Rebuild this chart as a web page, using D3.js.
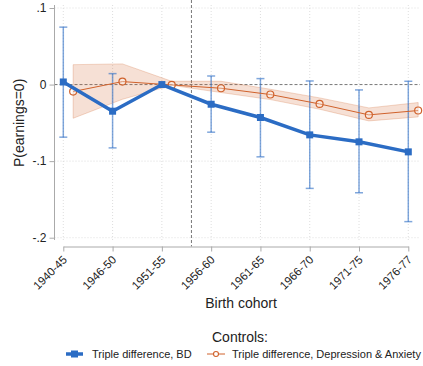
<!DOCTYPE html>
<html>
<head>
<meta charset="utf-8">
<script src="https://cdn.jsdelivr.net/npm/d3@7"></script>
<style>
  body { margin: 0; background: #fff; }
  text { font-family: "Liberation Sans", Arial, Helvetica, sans-serif; fill: #222; }
</style>
</head>
<body>
<div id="chart"></div>
<script>
// Data
var cohorts = ['1940-45', '1946-50', '1951-55', '1956-60', '1961-65', '1966-70', '1971-75', '1976-77'];

// Triple difference, BD (point estimate + 95% CI)
var bdEst = [0.0034, -0.0348, 0, -0.0257, -0.043, -0.0657, -0.0748, -0.0879];
var bdLow = [-0.0687, -0.0827, null, -0.0622, -0.0944, -0.1356, -0.1413, -0.179];
var bdHigh = [0.075, 0.0143, null, 0.0112, 0.0078, 0.0047, -0.007, 0.0043];

// Triple difference, Depression & Anxiety (point estimate + band)
var daEst = [-0.0091, 0.0039, -0.0005, -0.0048, -0.013, -0.0253, -0.0396, -0.0339];
var daLow = [-0.044, -0.0192, -0.001, -0.0104, -0.0196, -0.0322, -0.0475, -0.0422];
var daHigh = [0.026, 0.027, 0.0043, 0.0043, -0.0061, -0.0174, -0.0305, -0.0235];

var yTicks = [0.1, 0, -0.1, -0.2];
var yTickLabels = ['.1', '0', '-.1', '-.2'];

var svgWidth = 423;
var svgHeight = 366;

var blue = '#2b6cc4';
var orange = '#d0622c';

var svg = d3.select('#chart')
  .append('svg')
  .attr('width', svgWidth)
  .attr('height', svgHeight);

var x = d3.scaleLinear()
  .domain([0, cohorts.length - 1])
  .range([63.3, 408.3]);

var y = d3.scaleLinear()
  .domain([-0.2, 0.1])
  .range([237.7, 8]);

var plotLeft = 54.5;
var plotRight = 420;
var plotTop = 5;
var plotBottom = 240;
var xAxisY = 246.5;
var offset = 0.2; // orange series shifted right

// gridlines
svg.append('g').selectAll('line')
  .data(cohorts)
  .enter()
  .append('line')
  .attr('x1', (d, i) => x(i))
  .attr('x2', (d, i) => x(i))
  .attr('y1', plotTop)
  .attr('y2', plotBottom)
  .attr('stroke', '#d6d6d6')
  .attr('stroke-width', 0.8)
  .attr('stroke-dasharray', '1,2');

svg.append('g').selectAll('line')
  .data(yTicks.filter(d => d !== 0))
  .enter()
  .append('line')
  .attr('x1', plotLeft)
  .attr('x2', plotRight)
  .attr('y1', d => y(d))
  .attr('y2', d => y(d))
  .attr('stroke', '#d6d6d6')
  .attr('stroke-width', 0.8)
  .attr('stroke-dasharray', '1,2');

// zero line and cohort break
svg.append('line')
  .attr('x1', plotLeft)
  .attr('x2', plotRight)
  .attr('y1', y(0))
  .attr('y2', y(0))
  .attr('stroke', '#555')
  .attr('stroke-width', 0.8)
  .attr('stroke-dasharray', '3,2');

svg.append('line')
  .attr('x1', x(2.6))
  .attr('x2', x(2.6))
  .attr('y1', 0)
  .attr('y2', xAxisY)
  .attr('stroke', '#555')
  .attr('stroke-width', 0.8)
  .attr('stroke-dasharray', '3,2');

// y axis
var leftAxis = d3.axisLeft(y)
  .tickValues(yTicks)
  .tickFormat((d, i) => yTickLabels[i])
  .tickSize(5)
  .tickSizeOuter(0);

var yAxisG = svg.append('g')
  .attr('transform', `translate(${plotLeft}, 0)`)
  .call(leftAxis);
yAxisG.select('.domain').attr('d', `M0,${plotTop}V${plotBottom}`).attr('stroke', '#aaa');
yAxisG.selectAll('.tick line').attr('stroke', '#aaa');
yAxisG.selectAll('.tick text').attr('font-size', 12).attr('x', -8).style('fill', '#222');

// x axis
var bottomAxis = d3.axisBottom(x)
  .tickValues(d3.range(cohorts.length))
  .tickFormat(i => cohorts[i])
  .tickSize(5)
  .tickSizeOuter(0);

var xAxisG = svg.append('g')
  .attr('transform', `translate(0, ${xAxisY})`)
  .call(bottomAxis);
xAxisG.select('.domain').attr('stroke', '#aaa');
xAxisG.selectAll('.tick line').attr('stroke', '#aaa');
xAxisG.selectAll('.tick text')
  .attr('font-size', 11.5)
  .attr('text-anchor', 'end')
  .attr('x', 0)
  .attr('y', 0)
  .attr('dy', 0)
  .attr('transform', 'translate(4, 14) rotate(-45)')
  .style('fill', '#222');

// orange band
var band = d3.area()
  .x((d, i) => x(i + offset))
  .y0((d, i) => y(daLow[i]))
  .y1((d, i) => y(daHigh[i]));

svg.append('path')
  .datum(daEst)
  .attr('d', band)
  .attr('fill', orange)
  .attr('fill-opacity', 0.2)
  .attr('stroke', orange)
  .attr('stroke-opacity', 0.25)
  .attr('stroke-width', 1);

// blue CI bars
var ciIdx = d3.range(cohorts.length).filter(i => bdLow[i] !== null);
var ciG = svg.append('g')
  .attr('stroke', blue)
  .attr('stroke-opacity', 0.6)
  .attr('stroke-width', 1.5);

ciG.selectAll('.ci')
  .data(ciIdx)
  .enter()
  .append('line')
  .attr('x1', i => x(i))
  .attr('x2', i => x(i))
  .attr('y1', i => y(bdLow[i]))
  .attr('y2', i => y(bdHigh[i]));

ciG.selectAll('.capL')
  .data(ciIdx)
  .enter()
  .append('line')
  .attr('x1', i => x(i) - 4)
  .attr('x2', i => x(i) + 4)
  .attr('y1', i => y(bdLow[i]))
  .attr('y2', i => y(bdLow[i]));

ciG.selectAll('.capH')
  .data(ciIdx)
  .enter()
  .append('line')
  .attr('x1', i => x(i) - 4)
  .attr('x2', i => x(i) + 4)
  .attr('y1', i => y(bdHigh[i]))
  .attr('y2', i => y(bdHigh[i]));

// orange line + hollow circles
var daLine = d3.line()
  .x((d, i) => x(i + offset))
  .y(d => y(d));

svg.append('path')
  .datum(daEst)
  .attr('d', daLine)
  .attr('fill', 'none')
  .attr('stroke', orange)
  .attr('stroke-width', 1);

svg.selectAll('.daPt')
  .data(daEst)
  .enter()
  .append('circle')
  .attr('cx', (d, i) => x(i + offset))
  .attr('cy', d => y(d))
  .attr('r', 3.5)
  .attr('fill', '#fff')
  .attr('fill-opacity', 0.3)
  .attr('stroke', orange)
  .attr('stroke-width', 1.2);

// blue line + squares
var bdLine = d3.line()
  .x((d, i) => x(i))
  .y(d => y(d));

svg.append('path')
  .datum(bdEst)
  .attr('d', bdLine)
  .attr('fill', 'none')
  .attr('stroke', blue)
  .attr('stroke-width', 3.5)
  .attr('stroke-linejoin', 'miter');

svg.selectAll('.bdPt')
  .data(bdEst)
  .enter()
  .append('rect')
  .attr('x', (d, i) => x(i) - 3.5)
  .attr('y', d => y(d) - 3.5)
  .attr('width', 7)
  .attr('height', 7)
  .attr('fill', blue);

// axis titles
svg.append('text')
  .attr('transform', `translate(24, ${y(-0.05)}) rotate(-90)`)
  .attr('text-anchor', 'middle')
  .attr('font-size', 14)
  .text('P(earnings=0)');

svg.append('text')
  .attr('x', 241)
  .attr('y', 308)
  .attr('text-anchor', 'middle')
  .attr('font-size', 14)
  .text('Birth cohort');

// legend
svg.append('text')
  .attr('x', 240)
  .attr('y', 342)
  .attr('text-anchor', 'middle')
  .attr('font-size', 14)
  .text('Controls:');

var legY = 354;
svg.append('line')
  .attr('x1', 66).attr('x2', 83)
  .attr('y1', legY).attr('y2', legY)
  .attr('stroke', blue).attr('stroke-width', 3.5);
svg.append('rect')
  .attr('x', 71).attr('y', legY - 3.5)
  .attr('width', 7).attr('height', 7)
  .attr('fill', blue);
svg.append('text')
  .attr('x', 92).attr('y', legY + 4)
  .attr('font-size', 11)
  .text('Triple difference, BD');

svg.append('line')
  .attr('x1', 207).attr('x2', 225)
  .attr('y1', legY).attr('y2', legY)
  .attr('stroke', orange).attr('stroke-width', 1);
svg.append('circle')
  .attr('cx', 216).attr('cy', legY)
  .attr('r', 2.5)
  .attr('fill', '#fff')
  .attr('stroke', orange).attr('stroke-width', 1.1);
svg.append('text')
  .attr('x', 232).attr('y', legY + 4)
  .attr('font-size', 11)
  .text('Triple difference, Depression & Anxiety');
</script>
</body>
</html>
